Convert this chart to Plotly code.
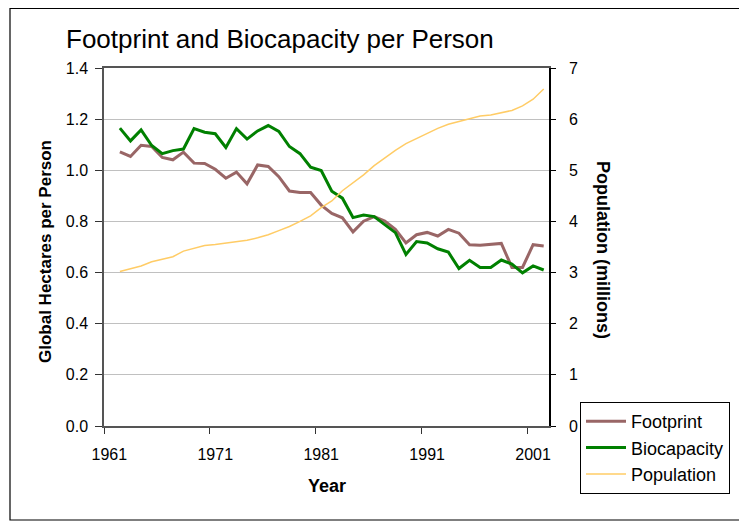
import plotly.graph_objects as go

years = list(range(1962, 2003))
footprint = [1.072, 1.054, 1.098, 1.093, 1.050, 1.041, 1.071, 1.028, 1.027, 1.004,
             0.969, 0.993, 0.947, 1.021, 1.015, 0.975, 0.919, 0.913, 0.913, 0.864,
             0.831, 0.814, 0.759, 0.801, 0.819, 0.801, 0.769, 0.716, 0.748, 0.757,
             0.743, 0.769, 0.754, 0.709, 0.707, 0.711, 0.714, 0.620, 0.620, 0.709,
             0.704]
biocapacity = [1.165, 1.115, 1.158, 1.097, 1.065, 1.077, 1.083, 1.163, 1.149, 1.143,
               1.089, 1.163, 1.122, 1.154, 1.175, 1.152, 1.093, 1.065, 1.012, 0.999,
               0.918, 0.891, 0.815, 0.825, 0.819, 0.789, 0.756, 0.671, 0.721, 0.716,
               0.693, 0.680, 0.616, 0.648, 0.620, 0.620, 0.649, 0.633, 0.599, 0.626,
               0.610]
population = [3.02, 3.07, 3.13, 3.21, 3.26, 3.31, 3.42, 3.47, 3.53, 3.55,
              3.58, 3.60, 3.63, 3.68, 3.74, 3.82, 3.90, 4.00, 4.11, 4.27,
              4.40, 4.60, 4.75, 4.91, 5.09, 5.24, 5.39, 5.52, 5.62, 5.71,
              5.82, 5.90, 5.95, 6.01, 6.06, 6.08, 6.12, 6.17, 6.26, 6.39,
              6.59]
x_tick_years = [1961, 1971, 1981, 1991, 2001]
x_tick_labels = ["1961", "1971", "1981", "1991", "2001"]
left_ticks = [0.0, 0.2, 0.4, 0.6, 0.8, 1.0, 1.2, 1.4]
left_tick_labels = ["0.0", "0.2", "0.4", "0.6", "0.8", "1.0", "1.2", "1.4"]
right_ticks = [0, 1, 2, 3, 4, 5, 6, 7]

FONT = "Arial, 'Liberation Sans', sans-serif"

fig = go.Figure()
fig.add_trace(go.Scatter(x=years, y=footprint, name="Footprint", mode="lines",
                         line=dict(color="#996666", width=3)))
fig.add_trace(go.Scatter(x=years, y=biocapacity, name="Biocapacity", mode="lines",
                         line=dict(color="#008000", width=3)))
fig.add_trace(go.Scatter(x=years, y=population, name="Population", mode="lines",
                         line=dict(color="#FFCC66", width=1.5), yaxis="y2"))

# page is drawn with an 8px body margin: figure coords = page coords - 8
OFF = 8
W, H = 747 - OFF, 523 - OFF
PL, PR, PT, PB = 104, 549, 68, 426   # plot area in page pixels
L, T = PL - OFF, PT - OFF
R, B = W - (PR - OFF), H - (PB - OFF)
pw, ph = PR - PL, PB - PT

def px(xp):
    return (xp - PL) / pw

def py(yp):
    return (PB - yp) / ph

fig.update_layout(
    width=W, height=H,
    margin=dict(l=L, r=R, t=T, b=B, pad=0),
    paper_bgcolor="white", plot_bgcolor="white",
    font=dict(family=FONT, color="black", size=16),
    showlegend=True,
    title=dict(text="Footprint and Biocapacity per Person", font=dict(size=26, family=FONT),
               x=(66 - OFF) / W, xanchor="left", xref="container",
               y=1 - (39 - OFF) / H, yanchor="middle", yref="container"),
    xaxis=dict(range=[1960.5, 2002.5], tickmode="array", tickvals=x_tick_years,
               ticktext=x_tick_labels, ticks="", showgrid=False, zeroline=False,
               showline=True, linecolor="#555555", linewidth=1.5, mirror=True,
               tickfont=dict(size=16), ticklabelstandoff=13,
               minor=dict(tickmode="array", tickvals=[1960.5, 1970.5, 1980.5, 1990.5, 2000.5],
                          ticks="outside", ticklen=6, tickcolor="#333333", showgrid=False)),
    yaxis=dict(range=[0, 1.4], tickmode="array", tickvals=left_ticks, ticktext=left_tick_labels,
               ticks="outside", ticklen=7, tickcolor="#333333", showgrid=True,
               gridcolor="#c0c0c0", gridwidth=1, zeroline=False, showline=True,
               linecolor="#555555", linewidth=1.5, tickfont=dict(size=16),
               ticklabelstandoff=4),
    yaxis2=dict(range=[0, 7], overlaying="y", side="right", tickmode="array",
                tickvals=right_ticks, ticks="outside", ticklen=5, tickcolor="black",
                showgrid=False, zeroline=False, showline=True, linecolor="black",
                linewidth=1.5, tickfont=dict(size=16), ticklabelstandoff=10),
    legend=dict(x=px(580), y=py(402), xanchor="left", yanchor="top",
                bordercolor="black", borderwidth=1, bgcolor="white",
                font=dict(size=18, family=FONT), tracegroupgap=0, itemwidth=40),
)

fig.add_annotation(text="<b>Global Hectares per Person</b>", textangle=-90,
                   x=px(45), y=py(252), xref="paper", yref="paper",
                   xanchor="center", yanchor="middle",
                   showarrow=False, font=dict(size=17, family=FONT))
fig.add_annotation(text="<b>Population (millions)</b>", textangle=90,
                   x=px(603), y=py(250), xref="paper", yref="paper",
                   xanchor="center", yanchor="middle",
                   showarrow=False, font=dict(size=18, family=FONT))
fig.add_annotation(text="<b>Year</b>", x=px(327), y=py(486), xref="paper", yref="paper",
                   xanchor="center", yanchor="middle",
                   showarrow=False, font=dict(size=18, family=FONT))

fig.add_shape(type="rect", xref="paper", yref="paper",
              x0=px(10), x1=px(743), y0=py(520), y1=py(OFF + 0.5),
              line=dict(color="black", width=1.2), fillcolor="rgba(0,0,0,0)", layer="below")

fig.write_html("out.html")
